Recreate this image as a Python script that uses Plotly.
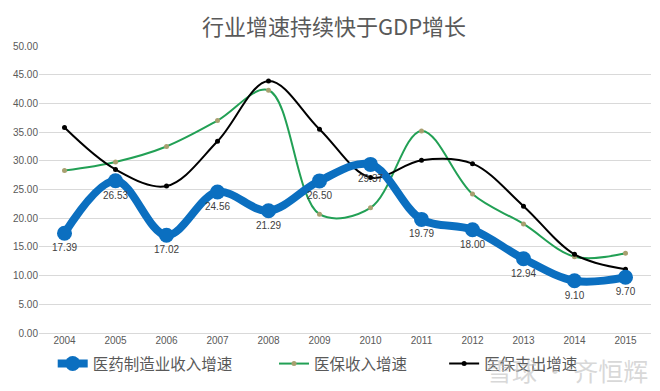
import plotly.graph_objects as go

years = ["2004", "2005", "2006", "2007", "2008", "2009", "2010", "2011", "2012", "2013", "2014", "2015"]
pharma_rev = [17.39, 26.53, 17.02, 24.56, 21.29, 26.50, 29.37, 19.79, 18.00, 12.94, 9.10, 9.70]
insurance_rev = [28.3, 29.8, 32.5, 37.0, 42.3, 20.7, 21.8, 35.2, 24.2, 19.0, 13.3, 13.9]
insurance_exp = [35.8, 28.5, 25.6, 33.4, 43.9, 35.5, 27.1, 30.1, 29.5, 22.1, 13.7, 11.1]
pharma_labels = [f"{v:.2f}" for v in pharma_rev]

fig = go.Figure()
fig.add_trace(go.Scatter(
    x=years, y=insurance_rev, name="医保收入增速", mode="lines+markers",
    line=dict(color="#22A055", width=2, shape="spline", smoothing=1),
    marker=dict(color="#A8A070", size=5), legend="legend2"))
fig.add_trace(go.Scatter(
    x=years, y=insurance_exp, name="医保支出增速", mode="lines+markers",
    line=dict(color="#000000", width=2, shape="spline", smoothing=1),
    marker=dict(color="#000000", size=5), legend="legend3"))
fig.add_trace(go.Scatter(
    x=years, y=pharma_rev, name="医药制造业收入增速", mode="lines+markers+text",
    text=pharma_labels, textposition="bottom center",
    textfont=dict(size=10, color="#404040", family="Liberation Sans"),
    line=dict(color="#0B6FC0", width=8, shape="spline", smoothing=1),
    marker=dict(color="#0B6FC0", size=15), legend="legend"))

legend_common = dict(orientation="h", yanchor="middle", y=-0.108, xanchor="left",
                     bgcolor="rgba(0,0,0,0)",
                     font=dict(size=15.5, color="#595959", family="Noto Sans CJK SC"))

# page body has an 8px default margin, so the figure is sized to fit the 660x391 window
fig.update_layout(
    width=652, height=383,
    margin=dict(l=31, r=9, t=38, b=58, autoexpand=False),
    paper_bgcolor="white", plot_bgcolor="white",
    title=dict(text="行业增速持续快于GDP增长", x=0.5, xanchor="center", y=0.95, yanchor="middle",
               font=dict(size=22, color="#595959", family="Noto Sans CJK SC")),
    xaxis=dict(type="category", range=[-0.5, 11.5], showgrid=False, showline=False,
               ticks="", tickfont=dict(size=10, color="#595959", family="Liberation Sans")),
    yaxis=dict(range=[0, 50], dtick=5, tickformat=".2f", showgrid=True, gridcolor="#D9D9D9",
               zeroline=True, zerolinecolor="#D9D9D9", zerolinewidth=1,
               tickfont=dict(size=10, color="#595959", family="Liberation Sans")),
    legend=dict(x=0.0224, **legend_common),
    legend2=dict(x=0.384, **legend_common),
    legend3=dict(x=0.662, **legend_common),
    showlegend=True,
)

fig.add_annotation(text="雪球 · 齐恒辉", xref="paper", yref="paper", x=0.998, y=-0.129,
                   xanchor="right", yanchor="middle", showarrow=False,
                   font=dict(size=25, color="rgba(190,190,190,0.6)", family="Noto Sans CJK SC"))

fig.write_html("out.html")
